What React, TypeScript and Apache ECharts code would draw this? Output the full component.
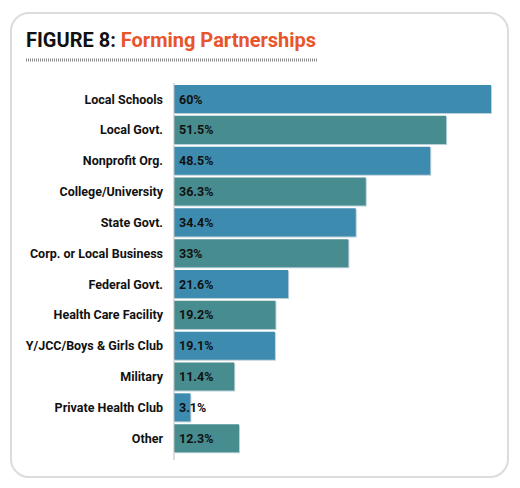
import React, { useEffect, useRef } from "react";
import * as echarts from "echarts";

const categories = [
  "Local Schools",
  "Local Govt.",
  "Nonprofit Org.",
  "College/University",
  "State Govt.",
  "Corp. or Local Business",
  "Federal Govt.",
  "Health Care Facility",
  "Y/JCC/Boys & Girls Club",
  "Military",
  "Private Health Club",
  "Other",
];
const values = [60, 51.5, 48.5, 36.3, 34.4, 33, 21.6, 19.2, 19.1, 11.4, 3.1, 12.3];
const valueLabels = ["60%", "51.5%", "48.5%", "36.3%", "34.4%", "33%", "21.6%", "19.2%", "19.1%", "11.4%", "3.1%", "12.3%"];
const colors = ["#3e8cb0", "#478c8f"];

export default function App() {
  const ref = useRef<HTMLDivElement>(null);
  useEffect(() => {
    document.body.style.margin = "0";
    const chart = echarts.init(ref.current!, null, { renderer: "svg" });
    chart.setOption({
      animation: false,
      backgroundColor: "#ffffff",
      grid: { left: 174, right: 29, top: 83.6, bottom: 488 - 453.6, containLabel: false },
      xAxis: {
        type: "value",
        min: 0,
        max: 60,
        show: false,
      },
      yAxis: {
        type: "category",
        data: categories,
        inverse: true,
        axisLine: { show: false },
        axisTick: { show: false },
        axisLabel: {
          margin: 11,
          color: "#111",
          fontFamily: "Roboto, sans-serif",
          fontWeight: "bold",
          fontSize: 12.5,
        },
      },
      series: [
        {
          type: "bar",
          barCategoryGap: "9%",
          data: values.map((v, i) => ({
            value: v,
            itemStyle: {
              color: colors[i % 2],
              shadowColor: "rgba(120,160,180,0.5)",
              shadowOffsetX: 1,
              shadowOffsetY: 1,
            },
          })),
          label: {
            show: true,
            position: "insideLeft",
            distance: 5,
            color: "#111",
            fontFamily: "Roboto, sans-serif",
            fontWeight: "bold",
            fontSize: 12.5,
            formatter: (p: any) => valueLabels[p.dataIndex],
          },
        },
      ],
      graphic: [
        {
          type: "rect",
          shape: { x: 11, y: 13, width: 497, height: 464, r: 18 },
          style: { fill: "none", stroke: "#dcdcdc", lineWidth: 2 },
          z: -1,
        },
        {
          type: "text",
          x: 26,
          y: 40,
          style: {
            text: "{a|FIGURE 8: }{b|Forming Partnerships}",
            rich: {
              a: { fontFamily: "Roboto, sans-serif", fontWeight: "bold", fontSize: 20, fill: "#111" },
              b: { fontFamily: "Roboto, sans-serif", fontWeight: "bold", fontSize: 20, fill: "#e8542b" },
            },
            verticalAlign: "middle",
          },
        },
        {
          type: "line",
          shape: { x1: 26, y1: 60, x2: 318, y2: 60 },
          style: { stroke: "#8a8a8a", lineWidth: 3, lineDash: [1, 1] },
        },
        {
          type: "line",
          shape: { x1: 174, y1: 83, x2: 174, y2: 460 },
          style: { stroke: "#bbbbbb", lineWidth: 1 },
          z: 10,
        },
      ],
    });
    return () => chart.dispose();
  }, []);
  return <div ref={ref} style={{ width: 520, height: 488 }} />;
}
